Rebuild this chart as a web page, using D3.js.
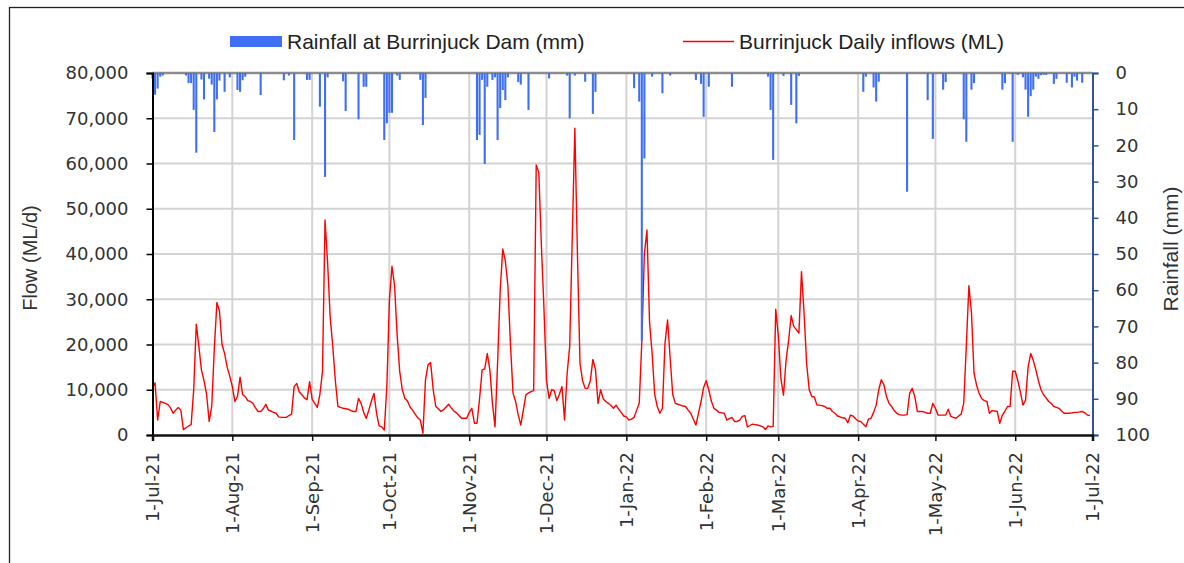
<!DOCTYPE html>
<html>
<head>
<meta charset="utf-8">
<script src="https://cdn.jsdelivr.net/npm/d3@7"></script>
<style>
  body { margin: 0; background: #fff; }
  svg { display: block; }
</style>
</head>
<body>
<svg id="chart" width="1184" height="563"></svg>
<script>
// daily inflows (ML/d), 1 Jul 2021 .. 30 Jun 2022, one array per month
const inflowJul = [10500, 11500, 3300, 7400, 7200, 7000, 6700, 6000, 4800, 5500, 6100, 5500, 1200, 1600, 2000, 2300, 10000, 24500, 19600, 14400, 12000, 9000, 3000, 6300, 19000, 29300, 27400, 20000, 18000, 15000, 13000];
const inflowAug = [10700, 7400, 8500, 12800, 8900, 8500, 7600, 7400, 7000, 6000, 5200, 5200, 5800, 6800, 5500, 5300, 5000, 4800, 4000, 3900, 3900, 3900, 4300, 4600, 10700, 11400, 9500, 8900, 8200, 7800, 11800];
const inflowSep = [7900, 7000, 6100, 9000, 14000, 47500, 38000, 26000, 19600, 12000, 6300, 6100, 5900, 5800, 5700, 5400, 5200, 5200, 8100, 7000, 5000, 3700, 5500, 7500, 9200, 4800, 2000, 1800, 1100, 10700];
const inflowOct = [30000, 37300, 33000, 22000, 14000, 10000, 8100, 7500, 6200, 5500, 4600, 3800, 3300, 400, 12200, 15500, 16000, 10000, 6300, 5800, 5200, 5600, 6200, 6800, 6000, 5300, 4900, 4300, 3700, 3700, 3700];
const inflowNov = [5000, 5900, 2600, 2600, 8000, 14400, 14600, 18000, 14400, 7000, 1800, 16000, 31800, 41100, 38500, 33000, 20000, 9200, 7400, 4500, 2200, 5500, 8900, 9300, 9600, 9800, 59700, 58000, 42000, 28000];
const inflowDec = [12000, 8100, 10000, 9800, 7600, 9000, 10700, 3300, 13600, 19600, 44000, 67800, 40000, 15800, 12000, 10300, 10300, 12000, 16700, 14500, 7000, 10000, 8000, 7400, 7000, 6500, 5900, 6600, 5700, 5000, 4200];
const inflowJan = [4000, 3300, 3500, 3900, 5500, 7000, 20600, 40100, 45300, 25000, 18000, 9000, 6300, 4800, 5900, 20300, 25400, 17000, 9000, 7000, 6800, 6600, 6400, 6300, 5500, 4800, 3500, 2200, 4800, 7400, 10500];
const inflowFeb = [12000, 10000, 7500, 5900, 5500, 5000, 4900, 4800, 3300, 3600, 3900, 3000, 3000, 3300, 4100, 4300, 1800, 2100, 2400, 2300, 2200, 2000, 1800, 1200, 2000, 1800, 1900, 27800];
const inflowMar = [22000, 12500, 8800, 16400, 20900, 26400, 24000, 23300, 22500, 36100, 27000, 15800, 10000, 8500, 8400, 6600, 6600, 6500, 6300, 5900, 5900, 5200, 4800, 4200, 4000, 3800, 3700, 2700, 4400, 4200, 3600];
const inflowApr = [3100, 3000, 2400, 1800, 3500, 3700, 5000, 6600, 10000, 12200, 11100, 8500, 7000, 6300, 5400, 4800, 4500, 4400, 4400, 4500, 9200, 10300, 8500, 5200, 5200, 5200, 5000, 4800, 4800, 7000];
const inflowMay = [5900, 4400, 4400, 4400, 4400, 5700, 4100, 3900, 3700, 4200, 4600, 7000, 19600, 33000, 27000, 13600, 11000, 9200, 8000, 7600, 7400, 4800, 5400, 5300, 5200, 2600, 4400, 5300, 6300, 6300, 14100];
const inflowJun = [14100, 12000, 9500, 6600, 7700, 15000, 18000, 16500, 14400, 12000, 10000, 8900, 8200, 7400, 7000, 6300, 6100, 5900, 5300, 4800, 4800, 4800, 4900, 5000, 5000, 5100, 5200, 4900, 4400, 4300];

// rainfall (mm): day number counted from 1-Jul-21, and amount
const rainDay = [0, 1, 2, 3, 4, 13, 14, 15, 16, 17, 19, 20, 22, 23, 24, 25, 26, 28, 30, 33, 34, 35, 36, 42, 51, 53, 55, 60, 61, 65, 67, 68, 74, 75, 80, 82, 83, 90, 91, 92, 93, 95, 96, 104, 105, 106, 126, 127, 128, 129, 130, 132, 133, 134, 135, 136, 137, 138, 142, 143, 146, 154, 161, 162, 164, 168, 171, 172, 187, 189, 190, 191, 194, 198, 201, 211, 213, 214, 216, 225, 239, 240, 241, 245, 248, 250, 251, 276, 277, 280, 281, 282, 293, 301, 303, 307, 308, 315, 316, 318, 319, 330, 331, 334, 336, 338, 339, 340, 341, 342, 343, 344, 345, 346, 347, 350, 351, 355, 357, 358, 359, 361];
const rainMm = [1.5, 6.0, 4.3, 1.0, 0.7, 0.7, 2.8, 2.8, 10.2, 22.0, 1.8, 7.3, 1.6, 3.2, 16.3, 7.3, 2.1, 5.2, 1.2, 4.7, 5.2, 2.0, 1.0, 6.1, 2.0, 0.7, 18.5, 1.9, 1.9, 9.3, 28.7, 1.2, 2.3, 10.5, 12.8, 3.8, 3.8, 18.5, 13.9, 11.0, 11.0, 0.7, 1.9, 1.9, 14.4, 6.9, 18.5, 17.1, 1.9, 25.1, 3.8, 1.9, 1.2, 18.5, 9.7, 4.7, 7.5, 1.2, 2.5, 3.2, 10.2, 1.5, 0.7, 12.5, 0.7, 2.4, 11.3, 5.2, 4.2, 7.9, 74.0, 23.6, 1.0, 5.6, 0.7, 1.9, 3.0, 12.1, 3.8, 3.8, 1.0, 10.2, 24.0, 0.8, 8.8, 13.9, 0.8, 5.2, 1.0, 4.0, 7.9, 2.4, 32.8, 7.5, 18.2, 4.6, 2.5, 12.8, 19.0, 4.6, 2.8, 4.6, 2.8, 19.0, 0.5, 1.2, 4.6, 12.1, 6.4, 4.6, 1.0, 1.6, 0.6, 0.5, 0.5, 3.0, 1.6, 2.7, 4.0, 1.0, 2.1, 2.7];

const monthLabels = ['1-Jul-21', '1-Aug-21', '1-Sep-21', '1-Oct-21', '1-Nov-21', '1-Dec-21', '1-Jan-22', '1-Feb-22', '1-Mar-22', '1-Apr-22', '1-May-22', '1-Jun-22', '1-Jul-22'];
const flowTicks = [0, 10000, 20000, 30000, 40000, 50000, 60000, 70000, 80000];
const rainTicks = [0, 10, 20, 30, 40, 50, 60, 70, 80, 90, 100];

const width = 1184, height = 563;
const margin = {top: 73, right: 91.5, bottom: 128, left: 152.5};
const plotW = width - margin.left - margin.right;
const plotH = height - margin.top - margin.bottom;

const parseLabel = d3.timeParse('%d-%b-%y');
const monthDates = monthLabels.map(parseLabel);
const startDate = monthDates[0];

const inflow = [].concat(inflowJul, inflowAug, inflowSep, inflowOct, inflowNov, inflowDec,
    inflowJan, inflowFeb, inflowMar, inflowApr, inflowMay, inflowJun)
    .map((v, i) => ({date: d3.timeDay.offset(startDate, i), value: v}));
const rain = rainDay.map((d, i) => ({date: d3.timeDay.offset(startDate, d), value: rainMm[i]}));

const x = d3.scaleTime()
    .domain([monthDates[0], monthDates[monthDates.length - 1]])
    .range([0, plotW]);
const yFlow = d3.scaleLinear().domain([0, 80000]).range([plotH, 0]);
const yRain = d3.scaleLinear().domain([0, 100]).range([0, plotH]);

const svg = d3.select('#chart');
const fontTick = '"DejaVu Sans", Verdana, sans-serif';
const fontLabel = '"Liberation Sans", Arial, sans-serif';
const textColor = '#333';

// chart area frame
svg.append('rect')
    .attr('x', 9.5).attr('y', 7.5)
    .attr('width', 1300).attr('height', 700)
    .attr('fill', 'none').attr('stroke', '#222').attr('stroke-width', 1.3);

const g = svg.append('g').attr('transform', `translate(${margin.left},${margin.top})`);

// gridlines
g.append('g').selectAll('line')
    .data(flowTicks.slice(1, -1))
    .join('line')
    .attr('x1', 0).attr('x2', plotW)
    .attr('y1', d => yFlow(d)).attr('y2', d => yFlow(d))
    .attr('stroke', '#d3d3d3').attr('stroke-width', 2);

g.append('g').selectAll('line')
    .data(monthDates.slice(1, -1))
    .join('line')
    .attr('x1', d => x(d)).attr('x2', d => x(d))
    .attr('y1', 0).attr('y2', plotH)
    .attr('stroke', '#d3d3d3').attr('stroke-width', 2);

// top border
g.append('line')
    .attr('x1', 0).attr('x2', plotW).attr('y1', 0).attr('y2', 0)
    .attr('stroke', '#8c8c8c').attr('stroke-width', 2.5);

// inflow line
const line = d3.line()
    .x(d => x(d.date))
    .y(d => yFlow(d.value));

g.append('path')
    .datum(inflow)
    .attr('fill', 'none')
    .attr('stroke', '#ff0000')
    .attr('stroke-width', 1.4)
    .attr('stroke-linejoin', 'round')
    .attr('d', line);

// rainfall bars hang from the top
const barW = 2.1;
g.append('g').selectAll('rect')
    .data(rain)
    .join('rect')
    .attr('x', d => x(d.date) - barW / 2)
    .attr('y', 0)
    .attr('width', barW)
    .attr('height', d => yRain(d.value))
    .attr('fill', '#3f6ff4');

// axes
const leftAxis = g.append('g')
    .call(d3.axisLeft(yFlow).tickValues(flowTicks).tickFormat(d3.format(',')).tickSize(6).tickPadding(18));
leftAxis.select('.domain').attr('stroke', '#000').attr('stroke-width', 2);
leftAxis.selectAll('.tick line').attr('stroke', '#000').attr('stroke-width', 1.5);
leftAxis.selectAll('text')
    .attr('font-family', fontTick).attr('font-size', 18).attr('fill', textColor);

const rightAxis = g.append('g')
    .attr('transform', `translate(${plotW},0)`)
    .call(d3.axisRight(yRain).tickValues(rainTicks).tickSize(6).tickPadding(17));
rightAxis.select('.domain').attr('stroke', '#2f5597').attr('stroke-width', 2);
rightAxis.selectAll('.tick line').attr('stroke', '#2f5597').attr('stroke-width', 1.5);
rightAxis.selectAll('text')
    .attr('font-family', fontTick).attr('font-size', 18).attr('fill', textColor);

const bottomAxis = g.append('g')
    .attr('transform', `translate(0,${plotH})`)
    .call(d3.axisBottom(x).tickValues(monthDates).tickFormat((d, i) => monthLabels[i]).tickSize(6));
bottomAxis.select('.domain').attr('stroke', '#111').attr('stroke-width', 2.5);
bottomAxis.selectAll('.tick line').attr('stroke', '#111').attr('stroke-width', 1.5);
bottomAxis.selectAll('text')
    .attr('font-family', fontTick).attr('font-size', 18).attr('fill', textColor)
    .attr('transform', 'rotate(-90)')
    .attr('text-anchor', 'end')
    .attr('x', -17).attr('y', 0).attr('dy', '0.35em');

// axis titles
svg.append('text')
    .attr('transform', 'translate(30,258) rotate(-90)')
    .attr('text-anchor', 'middle').attr('dy', '0.35em')
    .attr('font-family', fontLabel).attr('font-size', 20).attr('fill', textColor)
    .text('Flow (ML/d)');

svg.append('text')
    .attr('transform', 'translate(1171,249) rotate(-90)')
    .attr('text-anchor', 'middle').attr('dy', '0.35em')
    .attr('font-family', fontLabel).attr('font-size', 21).attr('fill', textColor)
    .text('Rainfall (mm)');

// legend
const legend = svg.append('g');
legend.append('rect')
    .attr('x', 230).attr('y', 36).attr('width', 52).attr('height', 11)
    .attr('fill', '#3f6ff4');
legend.append('text')
    .attr('x', 287).attr('y', 48.5)
    .attr('font-family', fontLabel).attr('font-size', 21).attr('fill', '#222')
    .text('Rainfall at Burrinjuck Dam (mm)');
legend.append('line')
    .attr('x1', 683).attr('x2', 734).attr('y1', 41.5).attr('y2', 41.5)
    .attr('stroke', '#ff0000').attr('stroke-width', 1.5);
legend.append('text')
    .attr('x', 739).attr('y', 48.5)
    .attr('font-family', fontLabel).attr('font-size', 21).attr('fill', '#222')
    .text('Burrinjuck Daily inflows (ML)');
</script>
</body>
</html>
